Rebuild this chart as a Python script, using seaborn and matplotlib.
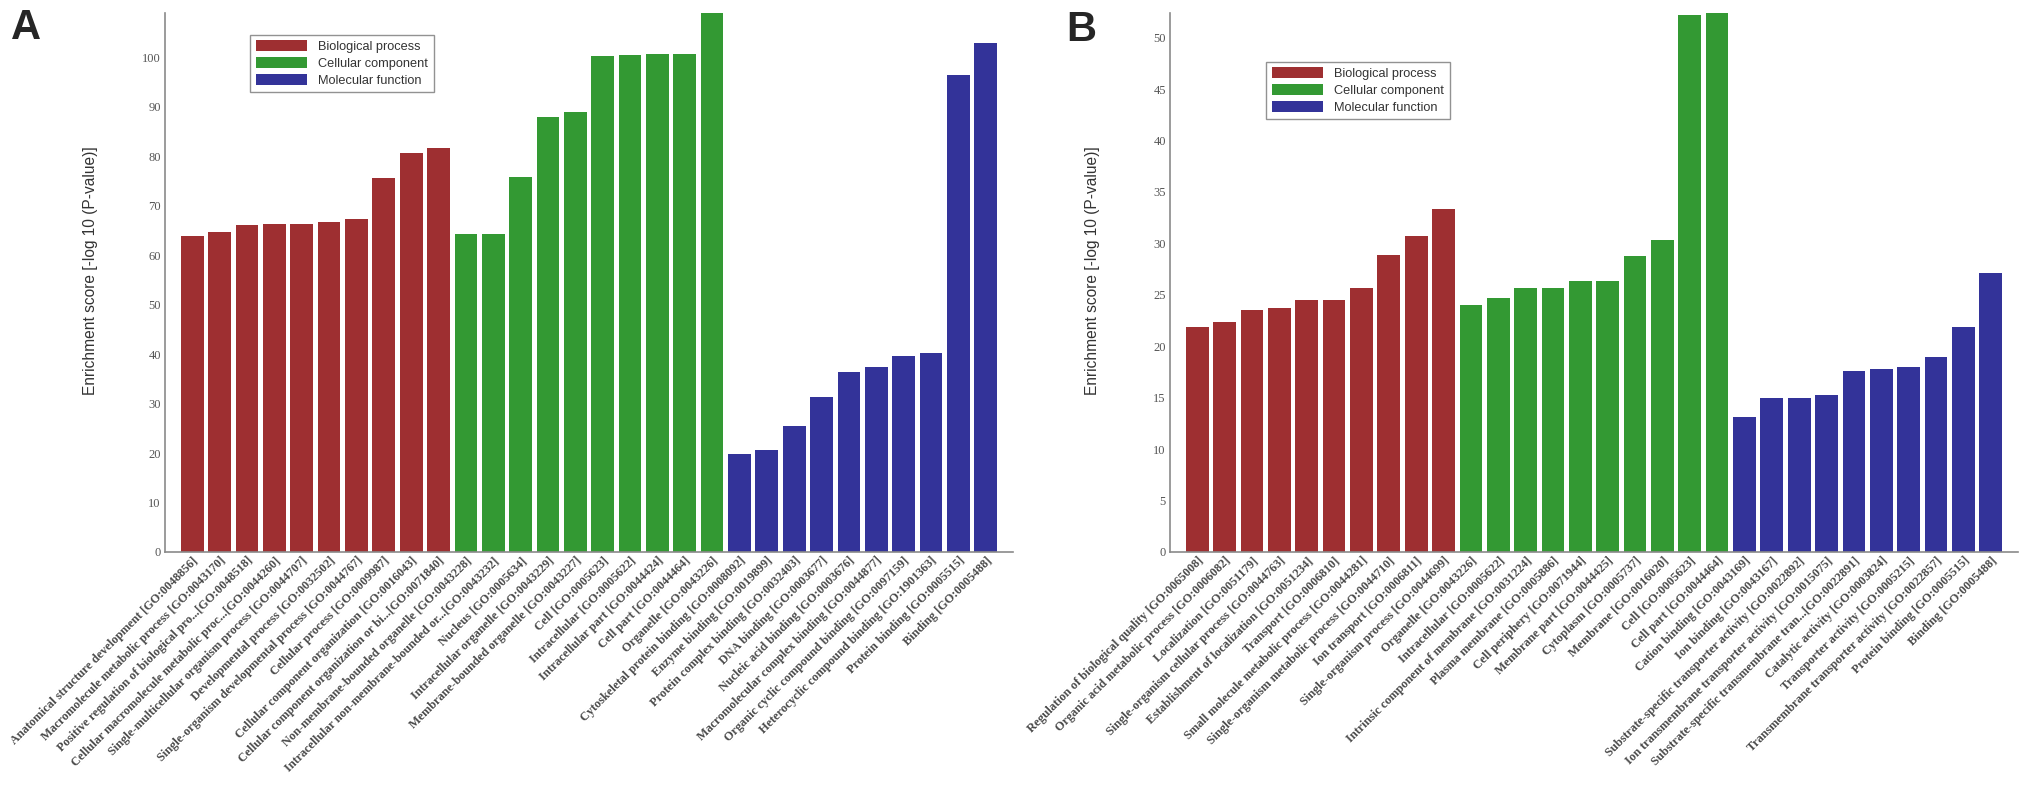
import matplotlib
matplotlib.use("Agg")
import matplotlib.pyplot as plt
import seaborn as sns
import pandas as pd

# ---------------- data ----------------
categories = ["Biological process", "Cellular component", "Molecular function"]

a_bp_terms = [
    "Anatomical structure development [GO:0048856]",
    "Macromolecule metabolic process [GO:0043170]",
    "Positive regulation of biological pro...[GO:0048518]",
    "Cellular macromolecule metabolic proc...[GO:0044260]",
    "Single-multicellular organism process [GO:0044707]",
    "Developmental process [GO:0032502]",
    "Single-organism developmental process [GO:0044767]",
    "Cellular process [GO:0009987]",
    "Cellular component organization [GO:0016043]",
    "Cellular component organization or bi...[GO:0071840]",
]
a_bp_vals = [64.0, 64.8, 66.1, 66.3, 66.3, 66.8, 67.3, 75.6, 80.6, 81.7]
a_cc_terms = [
    "Non-membrane-bounded organelle [GO:0043228]",
    "Intracellular non-membrane-bounded or...[GO:0043232]",
    "Nucleus [GO:0005634]",
    "Intracellular organelle [GO:0043229]",
    "Membrane-bounded organelle [GO:0043227]",
    "Cell [GO:0005623]",
    "Intracellular [GO:0005622]",
    "Intracellular part [GO:0044424]",
    "Cell part [GO:0044464]",
    "Organelle [GO:0043226]",
]
a_cc_vals = [64.3, 64.3, 75.8, 88.0, 89.0, 100.3, 100.5, 100.7, 100.7, 109.0]
a_mf_terms = [
    "Cytoskeletal protein binding [GO:0008092]",
    "Enzyme binding [GO:0019899]",
    "Protein complex binding [GO:0032403]",
    "DNA binding [GO:0003677]",
    "Nucleic acid binding [GO:0003676]",
    "Macromolecular complex binding [GO:0044877]",
    "Organic cyclic compound binding [GO:0097159]",
    "Heterocyclic compound binding [GO:1901363]",
    "Protein binding [GO:0005515]",
    "Binding [GO:0005488]",
]
a_mf_vals = [19.9, 20.7, 25.4, 31.3, 36.3, 37.5, 39.7, 40.3, 96.5, 103.0]

b_bp_terms = [
    "Regulation of biological quality [GO:0065008]",
    "Organic acid metabolic process [GO:0006082]",
    "Localization [GO:0051179]",
    "Single-organism cellular process [GO:0044763]",
    "Establishment of localization [GO:0051234]",
    "Transport [GO:0006810]",
    "Small molecule metabolic process [GO:0044281]",
    "Single-organism metabolic process [GO:0044710]",
    "Ion transport [GO:0006811]",
    "Single-organism process [GO:0044699]",
]
b_bp_vals = [21.9, 22.4, 23.5, 23.7, 24.5, 24.5, 25.7, 28.9, 30.7, 33.3]
b_cc_terms = [
    "Organelle [GO:0043226]",
    "Intracellular [GO:0005622]",
    "Intrinsic component of membrane [GO:0031224]",
    "Plasma membrane [GO:0005886]",
    "Cell periphery [GO:0071944]",
    "Membrane part [GO:0044425]",
    "Cytoplasm [GO:0005737]",
    "Membrane [GO:0016020]",
    "Cell [GO:0005623]",
    "Cell part [GO:0044464]",
]
b_cc_vals = [24.0, 24.7, 25.7, 25.7, 26.3, 26.3, 28.8, 30.3, 52.2, 52.4]
b_mf_terms = [
    "Cation binding [GO:0043169]",
    "Ion binding [GO:0043167]",
    "Substrate-specific transporter activity [GO:0022892]",
    "Ion transmembrane transporter activity [GO:0015075]",
    "Substrate-specific transmembrane tran...[GO:0022891]",
    "Catalytic activity [GO:0003824]",
    "Transporter activity [GO:0005215]",
    "Transmembrane transporter activity [GO:0022857]",
    "Protein binding [GO:0005515]",
    "Binding [GO:0005488]",
]
b_mf_vals = [13.1, 15.0, 15.0, 15.3, 17.6, 17.8, 18.0, 19.0, 21.9, 27.1]

a_yticks = list(range(0, 101, 10))
b_yticks = list(range(0, 51, 5))

colors = ["#9E2F31", "#339933", "#333399"]


def make_df(bp_t, bp_v, cc_t, cc_v, mf_t, mf_v):
    terms = bp_t + cc_t + mf_t
    vals = bp_v + cc_v + mf_v
    cats = ([categories[0]] * len(bp_t) + [categories[1]] * len(cc_t)
            + [categories[2]] * len(mf_t))
    return pd.DataFrame({"term": terms, "score": vals, "category": cats})


df_a = make_df(a_bp_terms, a_bp_vals, a_cc_terms, a_cc_vals, a_mf_terms, a_mf_vals)
df_b = make_df(b_bp_terms, b_bp_vals, b_cc_terms, b_cc_vals, b_mf_terms, b_mf_vals)

sns.set_style("white")
plt.rcParams["font.family"] = ["DejaVu Sans"]

W, H = 2031, 787
fig = plt.figure(figsize=(W / 100, H / 100), dpi=100)

spine_col = "#8a8a8a"
tick_col = "#555555"


def draw(ax_rect, df, yticks, ylim, legend_anchor, letter, letter_xy, ylab_x):
    ax = fig.add_axes(ax_rect)
    sns.barplot(data=df, x="term", y="score", hue="category",
                order=list(df["term"]), hue_order=categories,
                palette=colors, dodge=False, width=0.83, saturation=1,
                ax=ax, legend=True)
    for p in ax.patches:
        p.set_edgecolor("none")
    ax.set_xlim(-1, len(df))
    ax.set_ylim(*ylim)
    ax.set_yticks(yticks)
    ax.set_yticklabels([str(t) for t in yticks], family="Liberation Serif",
                       fontsize=9, color=tick_col)
    ax.tick_params(axis="y", direction="in", length=6, width=1, color=spine_col, pad=3)
    ax.tick_params(axis="x", length=0, pad=2)
    ax.set_xticks(range(len(df)))
    ax.set_xticklabels(list(df["term"]), rotation=45, ha="right", va="top",
                       rotation_mode="anchor", family="Liberation Serif",
                       fontweight="bold", fontsize=8.8, color="#4a4a4a")
    ax.set_xlabel("")
    ax.set_ylabel("Enrichment score [-log 10 (P-value)]", family="Liberation Sans",
                  fontsize=11.2, color="#333333")
    ax.yaxis.set_label_coords(ylab_x, (552 - 271) / 539)
    for s in ["top", "right"]:
        ax.spines[s].set_visible(False)
    for s in ["left", "bottom"]:
        ax.spines[s].set_color(spine_col)
        ax.spines[s].set_linewidth(1.2)
    leg = ax.legend(loc="upper left", bbox_to_anchor=legend_anchor,
                    frameon=True, fancybox=False, fontsize=9.2,
                    handlelength=4.0, handleheight=0.95, labelspacing=0.3,
                    borderpad=0.45, handletextpad=0.9, borderaxespad=0)
    leg.get_frame().set_edgecolor("#777777")
    leg.get_frame().set_linewidth(1.0)
    for t in leg.get_texts():
        t.set_family("Liberation Sans")
        t.set_color("#333333")
    fig.text(letter_xy[0], letter_xy[1], letter, fontsize=30, fontweight="bold",
             family="Liberation Sans", ha="left", va="top")
    return ax


bottom = (H - 552) / H
height = (552 - 13) / H
draw([165 / W, bottom, 848 / W, height], df_a, a_yticks, (0, 109),
     (0.10, 0.96), "A", (11 / W, 1 - 8 / H), (98 - 165) / 848)
draw([1170 / W, bottom, 848 / W, height], df_b, b_yticks, (0, 52.4),
     (0.113, 0.91), "B", (1066 / W, 1 - 10 / H), (1100 - 1170) / 848)

fig.savefig("out.png", dpi=100)
